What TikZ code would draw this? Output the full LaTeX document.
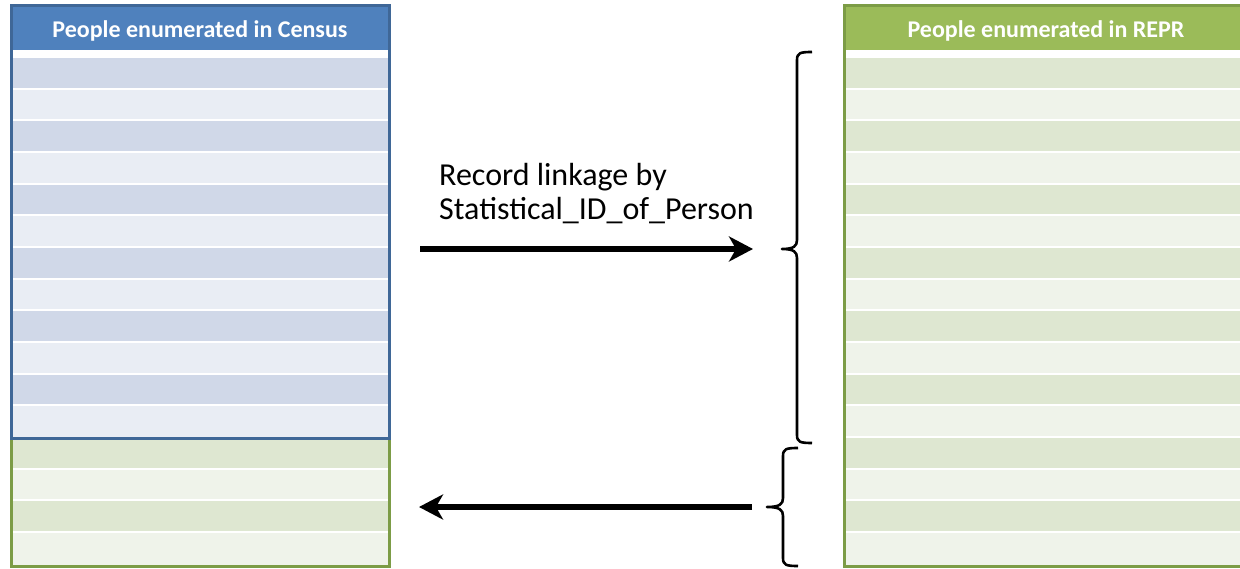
\documentclass[tikz,border=0pt]{standalone}
\usepackage{fontspec}
\setmainfont{Carlito}
\usetikzlibrary{arrows.meta}
\definecolor{bhead}{HTML}{4F81BD}
\definecolor{bdark}{HTML}{D0D8E8}
\definecolor{blight}{HTML}{E9EDF4}
\definecolor{bborder}{HTML}{3F6797}
\definecolor{ghead}{HTML}{9BBB59}
\definecolor{gdark}{HTML}{DEE7D1}
\definecolor{glight}{HTML}{EFF3EA}
\definecolor{gborder}{HTML}{7C9C46}
\tikzset{
  headtext/.style={text=white,font=\fontsize{24}{26}\selectfont\bfseries,inner sep=0pt},
  bigarrow/.style={line width=6.5pt,-{Stealth[length=24pt,width=25pt,inset=7pt]}},
  bracepath/.style={line width=2.6pt,line join=round},
  labeltext/.style={font=\fontsize{32}{34}\selectfont,align=left,inner sep=0pt,anchor=north west},
  tableborder/.style={line width=3pt},
}
\begin{document}
\begin{tikzpicture}[x=1pt,y=-1pt]
\useasboundingbox (0,0) rectangle (1240,569);
\clip (0,0) rectangle (1240,569);
\fill[white] (0,0) rectangle (1240,569);
% left table
\fill[bhead] (11,6) rectangle (389,50);
\fill[white] (11,50) rectangle (389,438);
\foreach \k in {0,...,11}{
  \pgfmathsetmacro{\t}{58+31.67*\k}
  \pgfmathsetmacro{\b}{\t+29.7}
  \ifodd\k \fill[blight] (11,\t) rectangle (389,\b); \else \fill[bdark] (11,\t) rectangle (389,\b); \fi
}
\fill[blight] (11,406) rectangle (389,438);
\foreach \k in {12,...,15}{
  \pgfmathsetmacro{\t}{58+31.67*\k}
  \pgfmathsetmacro{\b}{\t+29.7}
  \ifodd\k \fill[glight] (11,\t) rectangle (389,\b); \else \fill[gdark] (11,\t) rectangle (389,\b); \fi
}
\fill[glight] (11,533.5) rectangle (389,566);
\draw[gborder,tableborder] (11,438) rectangle (389,566);
\draw[bborder,tableborder] (11,6) rectangle (389,438);
\node[headtext] (lhead) at (200,31) {People enumerated in Census};
% right table
\fill[ghead] (844,6) rectangle (1250,50);
\fill[white] (844,50) rectangle (1250,566);
\foreach \k in {0,...,15}{
  \pgfmathsetmacro{\t}{58+31.67*\k}
  \pgfmathsetmacro{\b}{\t+29.7}
  \ifodd\k \fill[glight] (844,\t) rectangle (1250,\b); \else \fill[gdark] (844,\t) rectangle (1250,\b); \fi
}
\fill[glight] (844,533.5) rectangle (1250,566);
\draw[gborder,tableborder] (844,6) rectangle (1250,566);
\node[headtext] (rhead) at (1046,31) {People enumerated in REPR};
% label
\node[labeltext] (lab) at (439,163) {Record linkage by\\Statistical\_ID\_of\_Person};
% arrows
\coordinate (a1s) at (420,249);
\coordinate (a1e) at (753,249);
\coordinate (a2s) at (752,507);
\coordinate (a2e) at (419,507);
\draw[bigarrow] (a1s) -- (a1e);
\draw[bigarrow] (a2s) -- (a2e);
% braces
\coordinate (b1top) at (812,52);
\coordinate (b1tip) at (782,249);
\coordinate (b1bot) at (812,443);
\coordinate (b2top) at (798,448);
\coordinate (b2tip) at (767,507);
\coordinate (b2bot) at (798,566);
\draw[bracepath] (b1top) .. controls (800,52) and (797,53) .. (797,60) -- (797,240)
  .. controls (797,246) and (794,249) .. (b1tip) .. controls (794,249) and (797,252) .. (797,258)
  -- (797,435) .. controls (797,442) and (800,443) .. (b1bot);
\draw[bracepath] (b2top) .. controls (786,448) and (783,449) .. (783,456) -- (783,498)
  .. controls (783,504) and (780,507) .. (b2tip) .. controls (780,507) and (783,510) .. (783,516)
  -- (783,558) .. controls (783,565) and (786,566) .. (b2bot);
\end{tikzpicture}
\end{document}
